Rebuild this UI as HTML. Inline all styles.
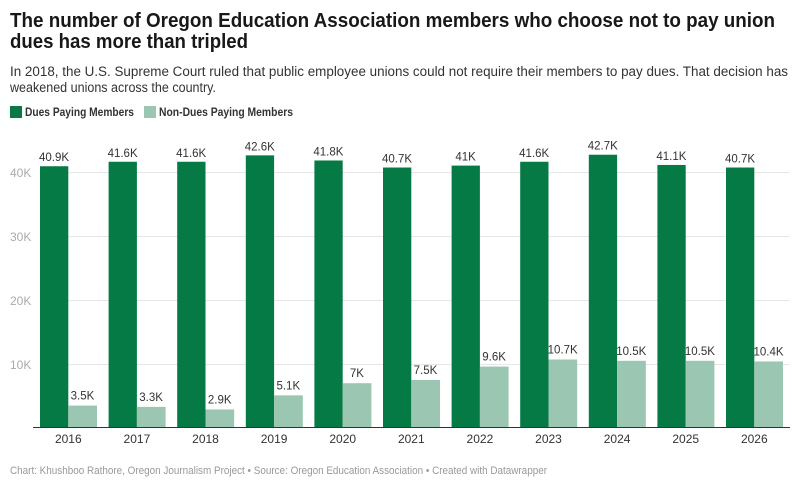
<!DOCTYPE html>
<html><head><meta charset="utf-8"><style>
body{margin:0;background:#fff}
svg{display:block;font-family:"Liberation Sans",sans-serif}
</style></head><body>
<svg width="800" height="487" viewBox="0 0 800 487" xmlns="http://www.w3.org/2000/svg">
<text x="10" y="27" font-size="20" font-weight="bold" fill="#181818" textLength="765" lengthAdjust="spacingAndGlyphs">The number of Oregon Education Association members who choose not to pay union</text>
<text x="10" y="48" font-size="20" font-weight="bold" fill="#181818" textLength="238" lengthAdjust="spacingAndGlyphs">dues has more than tripled</text>
<text x="10" y="76" font-size="13.5" fill="#333" textLength="778" lengthAdjust="spacingAndGlyphs">In 2018, the U.S. Supreme Court ruled that public employee unions could not require their members to pay dues. That decision has</text>
<text x="10" y="92" font-size="13.5" fill="#333" textLength="206" lengthAdjust="spacingAndGlyphs">weakened unions across the country.</text>
<rect x="10" y="106" width="12" height="12" fill="#067a45"/>
<text x="25" y="116" font-size="11.5" font-weight="bold" fill="#333" textLength="109" lengthAdjust="spacingAndGlyphs">Dues Paying Members</text>
<rect x="144" y="106" width="12" height="12" fill="#9bc6b1"/>
<text x="159" y="116" font-size="11.5" font-weight="bold" fill="#333" textLength="134" lengthAdjust="spacingAndGlyphs">Non-Dues Paying Members</text>
<g stroke="#e6e6e6" stroke-width="1">
<line x1="40" x2="790" y1="172.5" y2="172.5"/>
<line x1="40" x2="790" y1="236.5" y2="236.5"/>
<line x1="40" x2="790" y1="300.5" y2="300.5"/>
<line x1="40" x2="790" y1="364.5" y2="364.5"/>
</g>
<g font-size="12" fill="#aaa">
<text x="10" y="177">40K</text><text x="10" y="241">30K</text><text x="10" y="305">20K</text><text x="10" y="369">10K</text>
</g>
<g fill="#067a45">
<rect x="40" y="166.24" width="28.3" height="261.76"/>
<rect x="108.6" y="161.76" width="28.3" height="266.24"/>
<rect x="177.2" y="161.76" width="28.3" height="266.24"/>
<rect x="245.8" y="155.36" width="28.3" height="272.64"/>
<rect x="314.4" y="160.48" width="28.3" height="267.52"/>
<rect x="383" y="167.52" width="28.3" height="260.48"/>
<rect x="451.6" y="165.6" width="28.3" height="262.4"/>
<rect x="520.2" y="161.76" width="28.3" height="266.24"/>
<rect x="588.8" y="154.72" width="28.3" height="273.28"/>
<rect x="657.4" y="164.96" width="28.3" height="263.04"/>
<rect x="726" y="167.52" width="28.3" height="260.48"/>
</g>
<g fill="#9bc6b1">
<rect x="68.3" y="405.6" width="28.7" height="22.4"/>
<rect x="136.9" y="406.88" width="28.7" height="21.12"/>
<rect x="205.5" y="409.44" width="28.7" height="18.56"/>
<rect x="274.1" y="395.36" width="28.7" height="32.64"/>
<rect x="342.7" y="383.2" width="28.7" height="44.8"/>
<rect x="411.3" y="380" width="28.7" height="48"/>
<rect x="479.9" y="366.56" width="28.7" height="61.44"/>
<rect x="548.5" y="359.52" width="28.7" height="68.48"/>
<rect x="617.1" y="360.8" width="28.7" height="67.2"/>
<rect x="685.7" y="360.8" width="28.7" height="67.2"/>
<rect x="754.3" y="361.44" width="28.7" height="66.56"/>
</g>
<g font-size="11.5" fill="#333" text-anchor="middle">
<text x="54" y="161.24">40.9K</text>
<text x="122.6" y="156.76">41.6K</text>
<text x="191.2" y="156.76">41.6K</text>
<text x="259.8" y="150.36">42.6K</text>
<text x="328.4" y="155.48">41.8K</text>
<text x="397" y="162.52">40.7K</text>
<text x="465.6" y="160.6">41K</text>
<text x="534.2" y="156.76">41.6K</text>
<text x="602.8" y="149.72">42.7K</text>
<text x="671.4" y="159.96">41.1K</text>
<text x="740" y="162.52">40.7K</text>
<text x="82.5" y="399.6">3.5K</text>
<text x="151.1" y="400.88">3.3K</text>
<text x="219.7" y="403.44">2.9K</text>
<text x="288.3" y="389.36">5.1K</text>
<text x="356.9" y="377.2">7K</text>
<text x="425.5" y="374">7.5K</text>
<text x="494.1" y="360.56">9.6K</text>
<text x="562.7" y="353.52">10.7K</text>
<text x="631.3" y="354.8">10.5K</text>
<text x="699.9" y="354.8">10.5K</text>
<text x="768.5" y="355.44">10.4K</text>
</g>
<g font-size="12" fill="#333" text-anchor="middle">
<text x="68.3" y="443">2016</text>
<text x="136.9" y="443">2017</text>
<text x="205.5" y="443">2018</text>
<text x="274.1" y="443">2019</text>
<text x="342.7" y="443">2020</text>
<text x="411.3" y="443">2021</text>
<text x="479.9" y="443">2022</text>
<text x="548.5" y="443">2023</text>
<text x="617.1" y="443">2024</text>
<text x="685.7" y="443">2025</text>
<text x="754.3" y="443">2026</text>
</g>
<line x1="33" x2="790" y1="427.5" y2="427.5" stroke="#333" stroke-width="1"/>
<text x="10" y="474" font-size="11" fill="#999" textLength="537" lengthAdjust="spacingAndGlyphs">Chart: Khushboo Rathore, Oregon Journalism Project • Source: Oregon Education Association • Created with Datawrapper</text>
</svg>
</body></html>
